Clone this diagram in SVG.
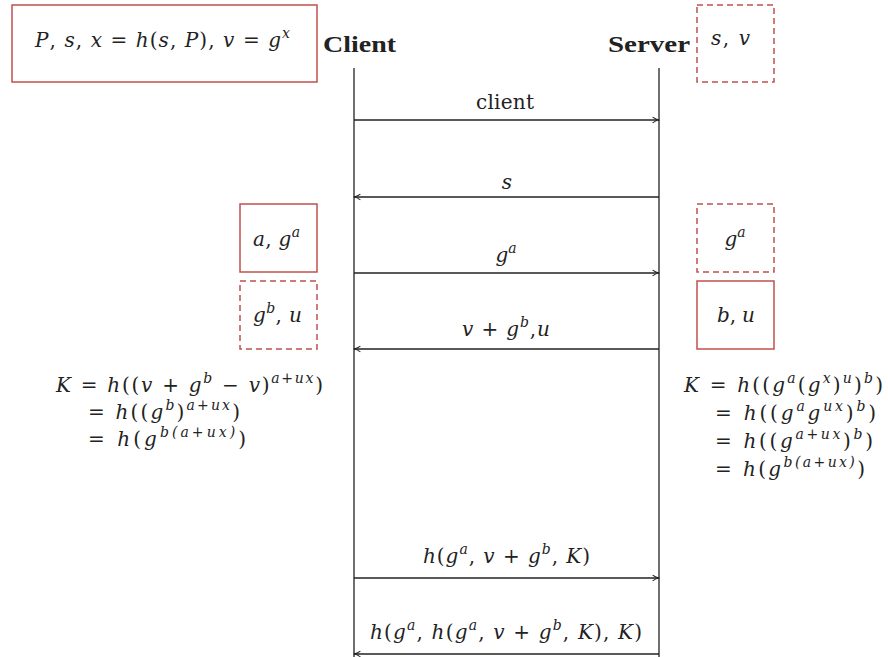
<svg xmlns="http://www.w3.org/2000/svg" width="888" height="657" viewBox="0 0 888 657">
<style>
.m{font-family:"DejaVu Serif","Liberation Serif",serif;font-size:20px;fill:#222}
.i{font-style:italic}
.s{font-size:14px;font-style:italic}
.b{font-family:"Liberation Serif","DejaVu Serif",serif;font-size:24px;font-weight:bold;fill:#222}
.box{fill:none;stroke:#c0504d;stroke-width:1.5}
.dbox{fill:none;stroke:#c0504d;stroke-width:1.5;stroke-dasharray:6 4}
.life{stroke:#222;stroke-width:1.3}
.arr{stroke:#222;stroke-width:1.3;fill:none;marker-end:url(#ah)}
</style>
<defs>
<marker id="ah" viewBox="0 0 10 10" refX="9" refY="5" markerWidth="8" markerHeight="8" markerUnits="userSpaceOnUse" orient="auto">
<path d="M1,1.5 Q5,4.5 9.5,5 Q5,5.5 1,8.5" fill="none" stroke="#222" stroke-width="1.3"/>
</marker>
</defs>
<rect width="888" height="657" fill="#fff"/>

<g id="client-init">
<rect class="box" x="12" y="5" width="305" height="77"/>
<text class="m" x="35" y="47" textLength="255" lengthAdjust="spacing"><tspan class="i">P</tspan>, <tspan class="i">s</tspan>, <tspan class="i">x</tspan> = <tspan class="i">h</tspan>(<tspan class="i">s</tspan>, <tspan class="i">P</tspan>), <tspan class="i">v</tspan> = <tspan class="i">g</tspan><tspan class="s" dy="-9">x</tspan></text>
</g>
<g id="client"><text class="b" x="323" y="52" textLength="73" lengthAdjust="spacingAndGlyphs">Client</text></g>
<g id="server"><text class="b" x="608" y="52" textLength="82" lengthAdjust="spacingAndGlyphs">Server</text></g>
<g id="server-init">
<rect class="dbox" x="697" y="5" width="77" height="77"/>
<text class="m" x="711" y="45" textLength="39" lengthAdjust="spacing"><tspan class="i">s</tspan>, <tspan class="i">v</tspan></text>
</g>

<g id="client-a">
<rect class="box" x="240" y="204" width="77" height="68"/>
<text class="m" x="253" y="246" textLength="47" lengthAdjust="spacing"><tspan class="i">a</tspan>, <tspan class="i">g</tspan><tspan class="s" dy="-9">a</tspan></text>
</g>
<g id="client-gb">
<rect class="dbox" x="240" y="281" width="77" height="68"/>
<text class="m" x="253" y="322" textLength="49" lengthAdjust="spacing"><tspan class="i">g</tspan><tspan class="s" dy="-9">b</tspan><tspan dy="9">, </tspan><tspan class="i">u</tspan></text>
</g>
<g id="server-ga">
<rect class="dbox" x="697" y="204" width="77" height="68"/>
<text class="m" x="735" y="246" text-anchor="middle"><tspan class="i">g</tspan><tspan class="s" dy="-9">a</tspan></text>
</g>
<g id="server-b">
<rect class="box" x="697" y="281" width="77" height="68"/>
<text class="m" x="717" y="322" textLength="38" lengthAdjust="spacing"><tspan class="i">b</tspan>, <tspan class="i">u</tspan></text>
</g>

<g id="client-key">
<text class="m" x="56" y="392" textLength="267" lengthAdjust="spacing"><tspan class="i">K</tspan> = <tspan class="i">h</tspan>((<tspan class="i">v</tspan> + <tspan class="i">g</tspan><tspan class="s" dy="-9">b</tspan><tspan dy="9"> − </tspan><tspan class="i">v</tspan>)<tspan class="s" dy="-9">a+ux</tspan><tspan dy="9">)</tspan></text>
<text class="m" x="88" y="419" textLength="152" lengthAdjust="spacing">= <tspan class="i">h</tspan>((<tspan class="i">g</tspan><tspan class="s" dy="-9">b</tspan><tspan dy="9">)</tspan><tspan class="s" dy="-9">a+ux</tspan><tspan dy="9">)</tspan></text>
<text class="m" x="88" y="446" textLength="158" lengthAdjust="spacing">= <tspan class="i">h</tspan>(<tspan class="i">g</tspan><tspan class="s" dy="-9">b(a+ux)</tspan><tspan dy="9">)</tspan></text>
</g>
<g id="server-key">
<text class="m" x="684" y="392" textLength="199" lengthAdjust="spacing"><tspan class="i">K</tspan> = <tspan class="i">h</tspan>((<tspan class="i">g</tspan><tspan class="s" dy="-9">a</tspan><tspan dy="9">(</tspan><tspan class="i">g</tspan><tspan class="s" dy="-9">x</tspan><tspan dy="9">)</tspan><tspan class="s" dy="-9">u</tspan><tspan dy="9">)</tspan><tspan class="s" dy="-9">b</tspan><tspan dy="9">)</tspan></text>
<text class="m" x="715" y="420" textLength="161" lengthAdjust="spacing">= <tspan class="i">h</tspan>((<tspan class="i">g</tspan><tspan class="s" dy="-9">a</tspan><tspan class="i" dy="9">g</tspan><tspan class="s" dy="-9">ux</tspan><tspan dy="9">)</tspan><tspan class="s" dy="-9">b</tspan><tspan dy="9">)</tspan></text>
<text class="m" x="715" y="448" textLength="158" lengthAdjust="spacing">= <tspan class="i">h</tspan>((<tspan class="i">g</tspan><tspan class="s" dy="-9">a+ux</tspan><tspan dy="9">)</tspan><tspan class="s" dy="-9">b</tspan><tspan dy="9">)</tspan></text>
<text class="m" x="715" y="476" textLength="150" lengthAdjust="spacing">= <tspan class="i">h</tspan>(<tspan class="i">g</tspan><tspan class="s" dy="-9">b(a+ux)</tspan><tspan dy="9">)</tspan></text>
</g>

<g id="connectors">
<line class="life" x1="354" y1="68" x2="354" y2="657"/>
<line class="life" x1="659" y1="68" x2="659" y2="657"/>
<line class="arr" x1="354" y1="120" x2="659" y2="120"/>
<line class="arr" x1="659" y1="197" x2="354" y2="197"/>
<line class="arr" x1="354" y1="273" x2="659" y2="273"/>
<line class="arr" x1="659" y1="349" x2="354" y2="349"/>
<line class="arr" x1="354" y1="578" x2="659" y2="578"/>
<line class="arr" x1="659" y1="654" x2="354" y2="654"/>
<text class="m" x="476" y="109" textLength="58" lengthAdjust="spacing">client</text>
<text class="m" x="507" y="189" text-anchor="middle" font-style="italic">s</text>
<text class="m" x="506" y="262" text-anchor="middle"><tspan class="i">g</tspan><tspan class="s" dy="-9">a</tspan></text>
<text class="m" x="462" y="336" textLength="88" lengthAdjust="spacing"><tspan class="i">v</tspan> + <tspan class="i">g</tspan><tspan class="s" dy="-9">b</tspan><tspan dy="9">,</tspan><tspan class="i">u</tspan></text>
<text class="m" x="423" y="563" textLength="167" lengthAdjust="spacing"><tspan class="i">h</tspan>(<tspan class="i">g</tspan><tspan class="s" dy="-9">a</tspan><tspan dy="9">, </tspan><tspan class="i">v</tspan> + <tspan class="i">g</tspan><tspan class="s" dy="-9">b</tspan><tspan dy="9">, </tspan><tspan class="i">K</tspan>)</text>
<text class="m" x="370" y="639" textLength="272" lengthAdjust="spacing"><tspan class="i">h</tspan>(<tspan class="i">g</tspan><tspan class="s" dy="-9">a</tspan><tspan dy="9">, </tspan><tspan class="i">h</tspan>(<tspan class="i">g</tspan><tspan class="s" dy="-9">a</tspan><tspan dy="9">, </tspan><tspan class="i">v</tspan> + <tspan class="i">g</tspan><tspan class="s" dy="-9">b</tspan><tspan dy="9">, </tspan><tspan class="i">K</tspan>), <tspan class="i">K</tspan>)</text>
</g>
</svg>
